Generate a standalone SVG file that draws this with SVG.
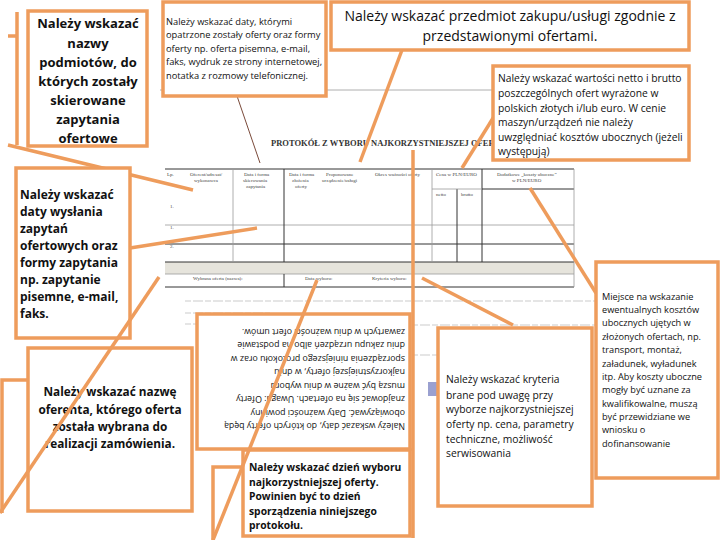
<svg xmlns="http://www.w3.org/2000/svg" width="720" height="540" viewBox="0 0 720 540">
<style>
.box{fill:#fff;stroke:#EE9C5C;stroke-width:3.5}
.con{stroke:#EE9C5C;stroke-width:3.5;fill:none}
.tl{stroke:#333;stroke-width:1;fill:none}
.tg{stroke:#999;stroke-width:0.8;fill:none}
.t{font-family:"Open Sans","DejaVu Sans",sans-serif;fill:#111}
.f{font-family:"Liberation Serif",serif;fill:#444;font-size:5px}
.blur{stroke:#ddd;stroke-width:1.5;stroke-dasharray:6 2 10 2}
</style>
<rect width="720" height="540" fill="#fff"/>
<g id="form">
<line x1="160" y1="90" x2="492" y2="90" class="tg"/>
<text x="271" y="146" font-family="Liberation Serif,serif" font-weight="bold" font-size="8.5" fill="#333">PROTOKÓŁ Z WYBORU NAJKORZYSTNIEJSZEJ OFERTY</text>
<rect x="165" y="262" width="409" height="12" fill="#e6e4dc"/>
<line x1="165" y1="169" x2="574" y2="169" class="tl"/>
<line x1="165" y1="225" x2="574" y2="225" class="tg"/>
<line x1="165" y1="244" x2="574" y2="244" class="tl"/>
<line x1="165" y1="262" x2="574" y2="262" class="tl"/>
<line x1="165" y1="274" x2="574" y2="274" class="tg"/>
<line x1="165" y1="287" x2="574" y2="287" class="tl"/>
<line x1="233" y1="169" x2="233" y2="262" class="tg"/>
<line x1="284" y1="169" x2="284" y2="262" class="tl"/>
<line x1="284" y1="274" x2="284" y2="287" class="tl"/>
<line x1="432" y1="169" x2="432" y2="262" class="tg"/>
<line x1="457" y1="189" x2="457" y2="262" class="tl"/>
<line x1="482" y1="169" x2="482" y2="262" class="tl"/>
<line x1="432" y1="189" x2="482" y2="189" class="tg"/>
<line x1="482" y1="189" x2="574" y2="189" class="tl"/>
<line x1="574" y1="169" x2="574" y2="287" class="tg"/>
<text class="f" x="167" y="176">Lp.</text>
<text class="f" x="190" y="176">Oferent/adresat/</text>
<text class="f" x="194" y="182">wykonawca</text>
<text class="f" x="244" y="176">Data i forma</text>
<text class="f" x="243" y="182">skierowania</text>
<text class="f" x="246" y="188">zapytania</text>
<text class="f" x="289" y="176">Data i forma</text>
<text class="f" x="292" y="182">złożenia</text>
<text class="f" x="295" y="188">oferty</text>
<text class="f" x="326" y="176">Proponowane</text>
<text class="f" x="322" y="182">urządzenie/usługi</text>
<text class="f" x="375" y="176">Okres ważności oferty</text>
<text class="f" x="436" y="176">Cena w PLN/EURO</text>
<text class="f" x="436" y="196">netto</text>
<text class="f" x="461" y="196">brutto</text>
<text class="f" x="497" y="176">Dodatkowe „koszty uboczne”</text>
<text class="f" x="512" y="182">w PLN/EURO</text>
<text class="f" x="170" y="208">1.</text>
<text class="f" x="170" y="229">1.</text>
<text class="f" x="170" y="248">2.</text>
<text class="f" x="193" y="280">Wybrana oferta (nazwa):</text>
<text class="f" x="305" y="280">Data wyboru:</text>
<text class="f" x="372" y="280">Kryteria wyboru:</text>
<line x1="185" y1="301" x2="600" y2="301" class="blur"/>
<line x1="185" y1="313" x2="270" y2="313" class="blur"/>
<line x1="185" y1="324" x2="200" y2="324" class="blur"/>
<line x1="412" y1="325" x2="600" y2="325" class="blur"/>
<line x1="412" y1="355" x2="440" y2="355" class="blur"/>
<rect x="428" y="382" width="10" height="14" fill="#9aa0d0"/>
</g>
<g id="connectors">
<path class="con" d="M17,12 V145 M8,36 H17 V145 M8,145 L193,190"/>
<line x1="237" y1="96" x2="260" y2="163" stroke="#7a4a3a" stroke-width="1"/>
<line class="con" x1="402" y1="50" x2="360" y2="162"/>
<line class="con" x1="495" y1="115" x2="462" y2="168"/>
<line class="con" x1="130" y1="248" x2="257" y2="228"/>
<path class="con" d="M27,380 H2 V513"/>
<path class="con" d="M245,467 H213 V540"/>
<line class="con" x1="413" y1="150" x2="413" y2="538"/>
<line class="con" x1="422" y1="278" x2="513" y2="325"/>
<line class="con" x1="530" y1="188" x2="596" y2="293"/>
</g>
<g id="nodeA"><rect class="box" x="28" y="11" width="119" height="135"/>
<g class="t" font-size="13" font-weight="bold" text-anchor="middle">
<text x="88" y="28">Należy wskazać</text><text x="88" y="48">nazwy</text><text x="88" y="67">podmiotów, do</text><text x="88" y="86">których zostały</text><text x="88" y="105">skierowane</text><text x="88" y="124">zapytania</text><text x="88" y="143">ofertowe</text></g></g>
<g id="nodeB"><rect class="box" x="163" y="2" width="163" height="94"/>
<g class="t" font-size="9.3"><text x="166" y="25">Należy wskazać daty, którymi</text><text x="166" y="38">opatrzone zostały oferty oraz  formy</text><text x="166" y="52">oferty np. oferta pisemna, e-mail,</text><text x="166" y="65">faks, wydruk ze strony internetowej,</text><text x="166" y="79">notatka z rozmowy telefonicznej.</text></g></g>
<g id="nodeC"><rect class="box" x="331" y="2" width="358" height="48"/>
<g class="t" font-size="14" text-anchor="middle"><text x="510" y="21">Należy wskazać przedmiot zakupu/usługi zgodnie z</text><text x="510" y="41">przedstawionymi ofertami.</text></g></g>
<g id="nodeD"><rect class="box" x="493" y="66" width="196" height="94"/>
<g class="t" font-size="10.3"><text x="498" y="82">Należy wskazać wartości netto i brutto</text><text x="498" y="97">poszczególnych ofert wyrażone w</text><text x="498" y="112">polskich złotych i/lub euro. W cenie</text><text x="498" y="126">maszyn/urządzeń nie należy</text><text x="498" y="141">uwzględniać kosztów ubocznych (jeżeli</text><text x="498" y="155">występują)</text></g></g>
<g id="nodeE"><rect class="box" x="16" y="168" width="114" height="170"/>
<g class="t" font-size="12" font-weight="bold"><text x="20" y="199">Należy wskazać</text><text x="20" y="216">daty wysłania</text><text x="20" y="233">zapytań</text><text x="20" y="250">ofertowych oraz</text><text x="20" y="267">formy zapytania</text><text x="20" y="284">np. zapytanie</text><text x="20" y="301">pisemne, e-mail,</text><text x="20" y="318">faks.</text></g></g>
<g id="nodeF"><rect class="box" x="28" y="348" width="164" height="163"/>
<g class="t" font-size="11.8" font-weight="bold" text-anchor="middle"><text x="110" y="396">Należy wskazać nazwę</text><text x="110" y="414">oferenta, którego oferta</text><text x="110" y="431">została wybrana do</text><text x="110" y="448">realizacji zamówienia.</text></g></g>
<g id="nodeG"><rect class="box" x="197" y="314" width="213" height="135"/>
<g class="t" font-size="8.8" transform="rotate(180 303.5 381.5)"><text x="202" y="340">Należy wskazać daty, do których oferty będą</text><text x="202" y="353.5">obowiązywać. Daty ważności powinny</text><text x="202" y="367">znajdować się na ofertach. Uwaga: Oferty</text><text x="202" y="380.5">muszą być ważne w dniu wyboru</text><text x="202" y="394">najkorzystniejszej oferty, w dniu</text><text x="202" y="407.5">sporządzenia niniejszego protokołu oraz w</text><text x="202" y="421">dniu zakupu urządzeń albo na podstawie</text><text x="202" y="434.5">zawartych w dniu ważności ofert umów.</text></g></g>
<g id="nodeH"><rect class="box" x="243" y="450" width="167" height="86"/>
<g class="t" font-size="10.3" font-weight="bold"><text x="249" y="471">Należy wskazać dzień wyboru</text><text x="249" y="486">najkorzystniejszej oferty.</text><text x="249" y="500">Powinien być to dzień</text><text x="249" y="515">sporządzenia niniejszego</text><text x="249" y="529">protokołu.</text></g></g>
<g id="nodeI"><rect class="box" x="438" y="328" width="154" height="178"/>
<g class="t" font-size="10.3"><text x="446" y="383">Należy wskazać kryteria</text><text x="446" y="399">brane pod uwagę przy</text><text x="446" y="413">wyborze najkorzystniejszej</text><text x="446" y="428">oferty np. cena, parametry</text><text x="446" y="443">techniczne, możliwość</text><text x="446" y="457">serwisowania</text></g></g>
<g id="nodeJ"><rect class="box" x="596" y="262" width="122" height="216"/>
<g class="t" font-size="9.2"><text x="602" y="300">Miejsce na wskazanie</text><text x="602" y="313">ewentualnych kosztów</text><text x="602" y="326">ubocznych ujętych w</text><text x="602" y="340">złożonych ofertach, np.</text><text x="602" y="353">transport, montaż,</text><text x="602" y="367">załadunek, wyładunek</text><text x="602" y="380">itp. Aby koszty uboczne</text><text x="602" y="393">mogły być uznane za</text><text x="602" y="407">kwalifikowalne, muszą</text><text x="602" y="420">być przewidziane we</text><text x="602" y="433">wniosku o</text><text x="602" y="447">dofinansowanie</text></g></g>
<g id="diagonals">
<line class="con" x1="0" y1="513" x2="159" y2="277"/>
<line class="con" x1="213" y1="540" x2="317" y2="280"/>
</g>
</svg>
